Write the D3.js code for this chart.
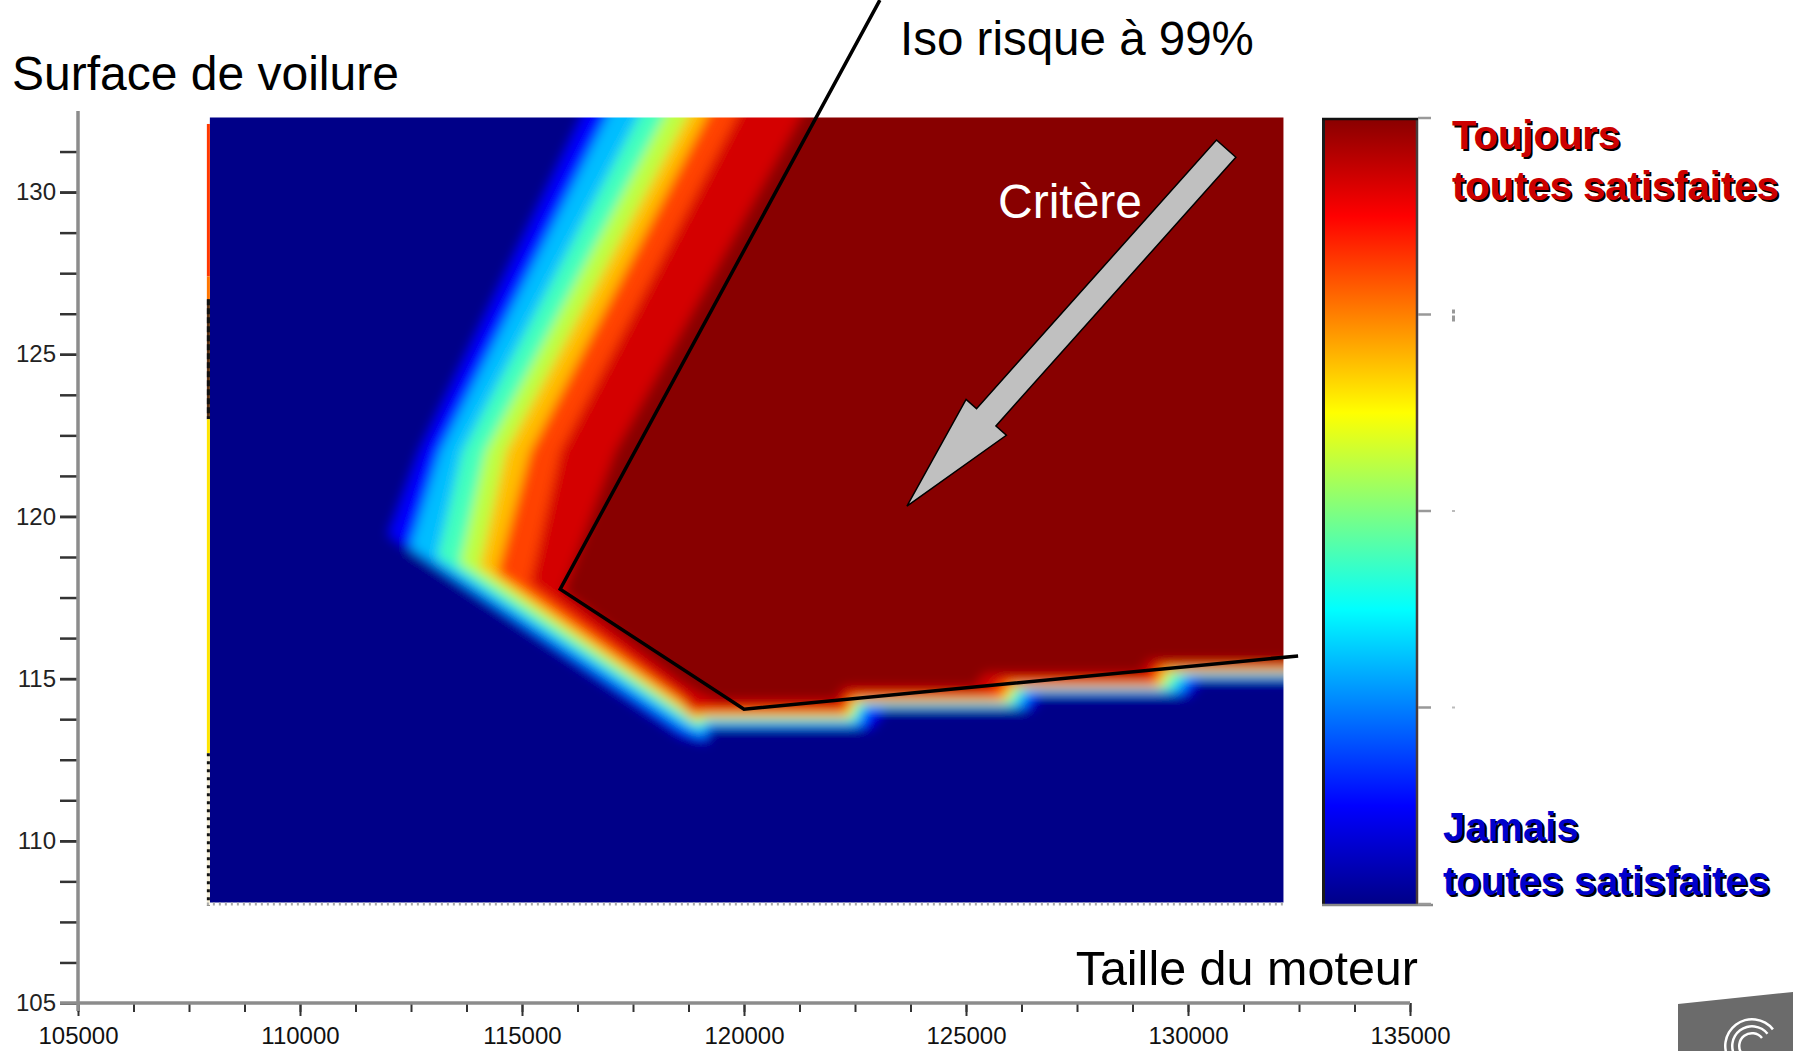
<!DOCTYPE html>
<html>
<head>
<meta charset="utf-8">
<script src="https://cdn.jsdelivr.net/npm/d3@7"></script>
<style>
body { margin: 0; background: #fff; }
svg { display: block; font-family: "Liberation Sans", Arial, sans-serif; }
</style>
</head>
<body>
<svg id="chart" width="1793" height="1051"></svg>
<script>
// axes
var xDomain = [105000, 135000];
var yDomain = [105, 132.5];
var xTicks = [105000, 110000, 115000, 120000, 125000, 130000, 135000];
var yTicks = [105, 110, 115, 120, 125, 130];
var xMinorStep = 1250, yMinorStep = 1.25;

// extent of the computed map
var heatX = [107970, 132150];
var heatY = [108.1, 132.3];

// iso-contours of the map (probability that all constraints are satisfied)
// read along rails: y = 133 (top), y = 122 (middle), x = 118600 (diagonal)
var yTopRail = 133, yMidRail = 122, xDiagRail = 118600, xEdge = 133500;
var levels     = [0.1, 0.25, 0.375, 0.5, 0.625, 0.75, 0.875, 0.97];
var bandValue  = [0.13, 0.31, 0.44, 0.56, 0.69, 0.81, 0.92, 1.0]; // value shown between a level and the next
var topX       = [116600, 117160, 117880, 118450, 118990, 119410, 120090, 121550];
var midX       = [112700, 113150, 113650, 114170, 114640, 115180, 115860, 117100];
var cornerX    = [112000, 112480, 113090, 113600, 114050, 114440, 115180, 115920];
var cornerY    = [119.43, 119.06, 118.75, 118.56, 118.44, 118.26, 117.95, 117.67];
var diagY      = [113.23, 113.51, 113.79, 113.94, 114.09, 114.25, 114.43, 114.86];
var diagEndX   = [119140, 119080, 119010, 118940, 118870, 118810, 118720, 119010];
var diagEndY   = [113.05, 113.23, 113.45, 113.60, 113.75, 113.91, 114.16, 114.53];
var seg1X      = [119280, 119210, 119140, 119080, 119010, 118940, 118870, 119460];
var seg1Y      = [113.48, 113.57, 113.69, 113.75, 113.85, 113.91, 114.06, 114.31];
var step1Start = [122840, 122610, 122500, 122430, 122340, 122280, 122160, 122050];
var step1End   = [123180, 122790, 122660, 122570, 122500, 122430, 122390, 122280];
var seg2Y      = [114.06, 114.12, 114.19, 114.25, 114.31, 114.37, 114.49, 114.71];
var step2Start = [126440, 126260, 126100, 125990, 125880, 125770, 125540, 125200];
var step2End   = [126670, 126440, 126260, 126130, 126040, 125950, 125770, 125430];
var seg3Y      = [114.49, 114.59, 114.65, 114.71, 114.74, 114.80, 114.93, 115.14];
var step3Start = [130000, 129820, 129640, 129480, 129370, 129260, 129140, 128920];
var step3End   = [130270, 130050, 129870, 129640, 129510, 129420, 129330, 129140];
var seg4Y      = [114.96, 115.05, 115.11, 115.17, 115.23, 115.30, 115.39, 115.54];

// odd column on the left border of the map
var stripY = [132.1, 127.4, 126.7, 123.0, 112.7, 108.0];
var stripV = [0.82, 0.76, null, 0.65, null];

// annotations
var isoX = [123060, 115860, 120000, 132480];
var isoY = [135.92, 117.76, 114.06, 115.70];
var arrowFrom = [130860, 131.34];
var arrowTo = [123670, 120.32];

// colour bar
var cbTicks = [0, 0.25, 0.5, 0.75, 1];
var legendTop = ["Toujours", "toutes satisfaites"];
var legendBottom = ["Jamais", "toutes satisfaites"];

var svg = d3.select("#chart");
var defs = svg.append("defs");

var x = d3.scaleLinear().domain(xDomain).range([78, 1410]);
var y = d3.scaleLinear().domain(yDomain).range([1003, 111]);

var jetStops = [0, 0.125, 0.375, 0.625, 0.875, 1];
var jet = d3.scaleLinear()
    .domain(jetStops)
    .range(["#000088", "#0000ff", "#00ffff", "#ffff00", "#ff0000", "#880000"])
    .interpolate(d3.interpolateRgb)
    .clamp(true);

// ---- map ----
defs.append("clipPath").attr("id", "heatClip")
    .append("rect")
    .attr("x", x(heatX[0])).attr("y", y(heatY[1]))
    .attr("width", x(heatX[1]) - x(heatX[0]))
    .attr("height", y(heatY[0]) - y(heatY[1]));

defs.append("filter").attr("id", "soft")
    .attr("filterUnits", "userSpaceOnUse")
    .attr("x", 0).attr("y", 0).attr("width", 1793).attr("height", 1051)
    .append("feGaussianBlur").attr("stdDeviation", 6);

var contours = levels.map(function(lv, i) {
    return [
        [xEdge, yTopRail], [topX[i], yTopRail], [midX[i], yMidRail], [cornerX[i], cornerY[i]],
        [xDiagRail, diagY[i]], [diagEndX[i], diagEndY[i]], [seg1X[i], seg1Y[i]],
        [step1Start[i], seg1Y[i]], [step1End[i], seg2Y[i]],
        [step2Start[i], seg2Y[i]], [step2End[i], seg3Y[i]],
        [step3Start[i], seg3Y[i]], [step3End[i], seg4Y[i]],
        [xEdge, seg4Y[i]]
    ];
});

var poly = d3.line()
    .x(function(d) { return x(d[0]); })
    .y(function(d) { return y(d[1]); });

var heat = svg.append("g").attr("clip-path", "url(#heatClip)")
    .append("g").attr("filter", "url(#soft)");

heat.append("rect")
    .attr("x", x(106500)).attr("y", y(134))
    .attr("width", x(xEdge) - x(106500))
    .attr("height", y(107) - y(134))
    .attr("fill", jet(0));

heat.selectAll("path.level")
    .data(contours)
    .enter().append("path")
    .attr("class", "level")
    .attr("d", function(d) { return poly(d) + "Z"; })
    .attr("fill", function(d, i) { return jet(bandValue[i]); });

// left border column
var strip = svg.append("g");
stripV.forEach(function(v, i) {
    var y0 = y(stripY[i]), y1 = y(stripY[i + 1]);
    strip.append("rect")
        .attr("x", x(heatX[0]) - 3).attr("y", y0)
        .attr("width", 3).attr("height", y1 - y0)
        .attr("fill", v === null ? (i < 3 ? "#5a3010" : "#f4eed8") : jet(v));
    if (v === null) {
        strip.append("line")
            .attr("x1", x(heatX[0]) - 1.5).attr("x2", x(heatX[0]) - 1.5)
            .attr("y1", y0).attr("y2", y1)
            .attr("stroke", "#111").attr("stroke-width", 3)
            .attr("stroke-dasharray", i < 3 ? "6,3" : "3,5");
    }
});
svg.append("line")
    .attr("x1", x(heatX[0]) - 3).attr("x2", x(heatX[1]))
    .attr("y1", y(heatY[0]) + 1.5).attr("y2", y(heatY[0]) + 1.5)
    .attr("stroke", "#aaa").attr("stroke-width", 3)
    .attr("stroke-dasharray", "2,4");

// ---- iso-risk line ----
svg.append("path")
    .datum(d3.zip(isoX, isoY))
    .attr("fill", "none")
    .attr("stroke", "#000")
    .attr("stroke-width", 3.5)
    .attr("d", poly);

// ---- criterion arrow ----
var p0 = [x(arrowFrom[0]), y(arrowFrom[1])], p1 = [x(arrowTo[0]), y(arrowTo[1])];
var len = Math.hypot(p1[0] - p0[0], p1[1] - p0[1]);
var ux = (p1[0] - p0[0]) / len, uy = (p1[1] - p0[1]) / len;
function along(a, b) { return [p0[0] + ux * a - uy * b, p0[1] + uy * a + ux * b]; }
var shaftW = 13, headW = 27, headL = 119;
svg.append("path")
    .attr("d", "M" + [
        along(0, -shaftW), along(len - headL, -shaftW), along(len - headL, -headW),
        along(len, 0), along(len - headL, headW), along(len - headL, shaftW), along(0, shaftW)
    ].join("L") + "Z")
    .attr("fill", "#c0c0c0")
    .attr("stroke", "#000")
    .attr("stroke-width", 1.5);

svg.append("text")
    .attr("x", 998).attr("y", 218)
    .attr("font-size", 48).attr("fill", "#fff")
    .text("Critère");

// ---- axes ----
var xMinor = d3.range(xDomain[0], xDomain[1] + 1, xMinorStep);
var yMinor = d3.range(yDomain[0], 131.5, yMinorStep);

var gx = svg.append("g").attr("transform", "translate(0," + y(yDomain[0]) + ")");
gx.append("g").call(d3.axisBottom(x).tickValues(xMinor).tickSize(9).tickFormat(""));
gx.append("g").call(d3.axisBottom(x).tickValues(xTicks).tickSize(13).tickFormat(d3.format("d")));
gx.selectAll(".domain").remove();
gx.selectAll(".tick line").attr("stroke", "#333").attr("stroke-width", 2);
gx.selectAll(".tick text")
    .attr("y", 41).attr("dy", 0)
    .attr("font-size", 24).attr("font-family", "Liberation Sans, Arial, sans-serif")
    .attr("fill", "#111");

var gy = svg.append("g").attr("transform", "translate(" + x(xDomain[0]) + ",0)");
gy.append("g").call(d3.axisLeft(y).tickValues(yMinor).tickSize(18).tickFormat(""));
gy.append("g").call(d3.axisLeft(y).tickValues(yTicks).tickSize(18).tickPadding(4).tickFormat(d3.format("d")));
gy.selectAll(".domain").remove();
gy.selectAll(".tick line").attr("stroke", "#333").attr("stroke-width", 2.5);
gy.selectAll(".tick text")
    .attr("font-size", 24).attr("font-family", "Liberation Sans, Arial, sans-serif")
    .attr("fill", "#222");

svg.append("line")
    .attr("x1", x(xDomain[0]) - 18).attr("x2", x(xDomain[1]))
    .attr("y1", y(yDomain[0])).attr("y2", y(yDomain[0]))
    .attr("stroke", "#8c8c8c").attr("stroke-width", 3.5);
svg.append("line")
    .attr("x1", x(xDomain[0])).attr("x2", x(xDomain[0]))
    .attr("y1", y(yDomain[1])).attr("y2", y(yDomain[0]) + 8)
    .attr("stroke", "#8c8c8c").attr("stroke-width", 3.5);

// titles
svg.append("text").attr("x", 12).attr("y", 90).attr("font-size", 48).text("Surface de voilure");
svg.append("text").attr("x", 1418).attr("y", 985).attr("font-size", 48.5)
    .attr("text-anchor", "end").text("Taille du moteur");
svg.append("text").attr("x", 900).attr("y", 55).attr("font-size", 47.5).text("Iso risque à 99%");

// ---- colour bar ----
var cb = d3.scaleLinear().domain([0, 1]).range([904, 118]);
var cbLeft = 1322, cbRight = 1418;
var grad = defs.append("linearGradient").attr("id", "jetGrad")
    .attr("x1", 0).attr("y1", 1).attr("x2", 0).attr("y2", 0);
grad.selectAll("stop").data(jetStops).enter().append("stop")
    .attr("offset", function(d) { return d; })
    .attr("stop-color", function(d) { return jet(d); });

svg.append("rect")
    .attr("x", cbLeft).attr("y", cb(1))
    .attr("width", cbRight - cbLeft).attr("height", cb(0) - cb(1))
    .attr("fill", "url(#jetGrad)");
svg.append("line").attr("x1", cbLeft + 1.5).attr("x2", cbLeft + 1.5)
    .attr("y1", cb(1)).attr("y2", cb(0)).attr("stroke", "#1a1a1a").attr("stroke-width", 3);
svg.append("line").attr("x1", cbRight - 1).attr("x2", cbRight - 1)
    .attr("y1", cb(1)).attr("y2", cb(0)).attr("stroke", "#4a3a3a").attr("stroke-width", 2.5);
svg.append("line").attr("x1", cbLeft).attr("x2", cbRight)
    .attr("y1", cb(1) + 1).attr("y2", cb(1) + 1).attr("stroke", "#111").attr("stroke-width", 2.5);
svg.append("line").attr("x1", cbLeft).attr("x2", cbRight + 15)
    .attr("y1", cb(0) + 1).attr("y2", cb(0) + 1).attr("stroke", "#888").attr("stroke-width", 2.5);

var cbt = svg.append("g").selectAll("g").data(cbTicks).enter().append("g")
    .attr("transform", function(d) { return "translate(" + cbRight + "," + cb(d) + ")"; });
cbt.append("line").attr("x1", 0).attr("x2", 13)
    .attr("stroke", "#999").attr("stroke-width", 2.5);
// clipped tick labels leave only small marks
cbt.filter(function(d) { return d > 0 && d < 1; })
    .append("rect")
    .attr("x", 34).attr("y", function(d) { return d === 0.75 ? -5 : -1; })
    .attr("width", 3).attr("height", function(d) { return d === 0.75 ? 12 : 2; })
    .attr("fill", function(d) { return d === 0.75 ? "#999" : "#bbb"; });
cbt.filter(function(d) { return d === 0.75; })
    .append("rect").attr("x", 34).attr("y", -1).attr("width", 3).attr("height", 2).attr("fill", "#fff");

function shadowText(lines, x0, baselines, colour) {
    var g = svg.append("g").attr("font-size", 40).attr("font-weight", "bold");
    lines.forEach(function(t, i) {
        g.append("text").attr("x", x0 + 2).attr("y", baselines[i] + 2).attr("fill", "#000").text(t);
        g.append("text").attr("x", x0).attr("y", baselines[i]).attr("fill", colour).text(t);
    });
}
shadowText(legendTop, 1452, [149, 200], "#cc0000");
shadowText(legendBottom, 1443, [841, 895], "#0000cc");

// ---- logo corner ----
var logo = svg.append("g");
logo.append("path")
    .attr("d", "M1678,1004 L1793,992 L1793,1051 L1678,1051 Z")
    .attr("fill", "#6b6b6b");
[28, 21, 14].forEach(function(r) {
    logo.append("path")
        .attr("d", d3.arc().innerRadius(r - 2.5).outerRadius(r).startAngle(-2.2).endAngle(0.9)())
        .attr("transform", "translate(1752,1046)")
        .attr("fill", "#fff");
});
</script>
</body>
</html>
